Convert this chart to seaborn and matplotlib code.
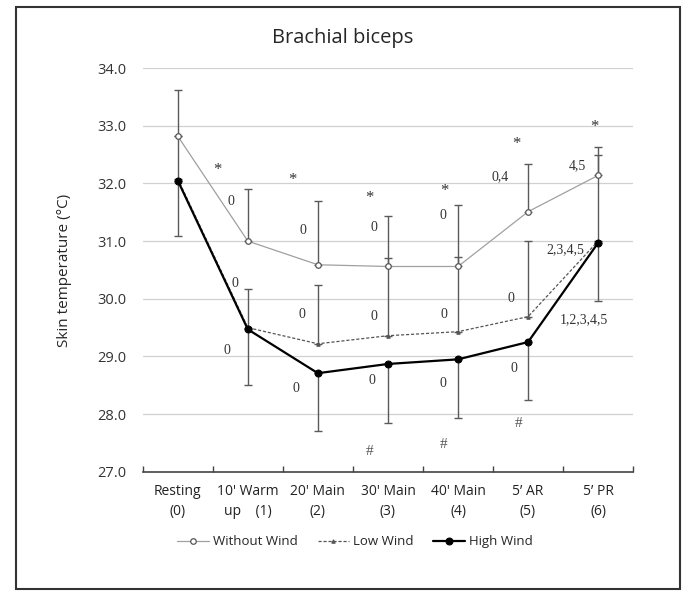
import matplotlib
matplotlib.use("Agg")
import matplotlib.pyplot as plt
import seaborn as sns
import pandas as pd
import numpy as np

categories = ["Resting\n(0)", "10' Warm\nup    (1)", "20' Main\n(2)", "30' Main\n(3)",
              "40' Main\n(4)", "5\u2019 AR\n(5)", "5\u2019 PR\n(6)"]
without_wind = [32.82, 31.00, 30.59, 30.56, 30.56, 31.51, 32.14]
without_err = [0.80, 0.90, 1.10, 0.87, 1.06, 0.83, 0.50]
low_wind = [32.08, 29.50, 29.22, 29.36, 29.43, 29.69, 31.00]
low_err = [0.75, 0.67, 1.02, 1.34, 1.30, 1.31, 1.49]
high_wind = [32.05, 29.47, 28.71, 28.87, 28.95, 29.25, 30.97]
high_err = [0.97, 0.97, 1.01, 1.03, 1.01, 1.01, 1.00]

ann_without = ["", "0", "0", "0", "0", "0,4", "4,5"]
ann_low = ["", "0", "0", "0", "0", "0", "2,3,4,5"]
ann_high = ["", "0", "0", "0", "0", "0", "1,2,3,4,5"]
star_pos = [None, 32.23, 32.06, 31.75, 31.87, 32.68, 32.98]
hash_pos = [None, None, None, 27.35, 27.47, 27.83, None]

sns.set_theme(style="white")
plt.rcParams['font.family'] = ['Open Sans', 'DejaVu Sans']

x = np.arange(len(categories))
df = pd.concat([
    pd.DataFrame({"x": x, "temp": without_wind, "cond": "Without Wind"}),
    pd.DataFrame({"x": x, "temp": low_wind, "cond": "Low Wind"}),
    pd.DataFrame({"x": x, "temp": high_wind, "cond": "High Wind"}),
])

fig = plt.figure(figsize=(6.83, 5.92), dpi=100)
ax = fig.add_axes([0.209, 0.203, 0.718, 0.682])

ekw = dict(fmt="none", ecolor="#5a5a5a", elinewidth=1.0, capsize=3, capthick=1.0, zorder=2)
ax.errorbar(x, without_wind, yerr=[np.zeros(7), without_err], **ekw)
ax.errorbar(x, low_wind, yerr=[np.zeros(7), low_err], **ekw)
ax.errorbar(x, high_wind, yerr=[high_err, np.zeros(7)], **ekw)

sub = df[df.cond == "Without Wind"]
sns.lineplot(data=sub, x="x", y="temp", ax=ax, color="#a0a0a0", linewidth=0.9,
             marker="o", markersize=4, markerfacecolor="white",
             markeredgecolor="#555555", markeredgewidth=0.9,
             label="Without Wind", zorder=3)
sub = df[df.cond == "Low Wind"]
sns.lineplot(data=sub, x="x", y="temp", ax=ax, color="#555555", linewidth=0.9,
             linestyle=(0, (2.5, 1.5)), marker="^", markersize=2.5,
             markerfacecolor="#555555", markeredgecolor="#555555",
             label="Low Wind", zorder=3)
sub = df[df.cond == "High Wind"]
sns.lineplot(data=sub, x="x", y="temp", ax=ax, color="black", linewidth=1.6,
             marker="o", markersize=5, markerfacecolor="black",
             markeredgecolor="black", label="High Wind", zorder=4)

serif = dict(family="Liberation Serif", fontsize=10, color="#333333")
offs_w = [(0, 0), (-0.243, 0.68), (-0.214, 0.59), (-0.2, 0.67), (-0.214, 0.88), (-0.4, 0.60), (-0.29, 0.16)]
offs_l = [(0, 0), (-0.186, 0.77), (-0.23, 0.50), (-0.2, 0.34), (-0.2, 0.29), (-0.243, 0.32), (-0.47, -0.14)]
offs_h = [(0, 0), (-0.3, -0.37), (-0.314, -0.26), (-0.23, -0.29), (-0.214, -0.41), (-0.2, -0.45), (-0.21, -1.34)]
for i in range(1, 7):
    ax.text(x[i] + offs_w[i][0], without_wind[i] + offs_w[i][1], ann_without[i],
            ha="center", va="center", **serif)
    ax.text(x[i] + offs_l[i][0], low_wind[i] + offs_l[i][1], ann_low[i],
            ha="center", va="center", **serif)
    ax.text(x[i] + offs_h[i][0], high_wind[i] + offs_h[i][1], ann_high[i],
            ha="center", va="center", **serif)
star_x = [None, -0.43, -0.37, -0.27, -0.2, -0.16, -0.06]
for i in range(1, 7):
    ax.text(x[i] + star_x[i], star_pos[i], "*", ha="center", va="center",
            family="Liberation Serif", fontsize=12, color="#333333")
hash_x = [None, None, None, -0.26, -0.2, -0.14, None]
for i in range(3, 6):
    ax.text(x[i] + hash_x[i], hash_pos[i], "#", ha="center", va="center",
            family="Liberation Serif", fontsize=11, color="#555555")

ax.set_xlim(-0.5, 6.5)
ax.set_ylim(27.0, 34.0)
yt = np.arange(27.0, 34.01, 1.0)
ax.set_yticks(yt)
ax.set_yticklabels([f"{v:.1f}" for v in yt], fontsize=10.5, color="#333333")
ax.set_xticks(x)
ax.set_xticklabels(categories, fontsize=10, linespacing=1.45, color="#222222")
ax.set_xticks(np.arange(-0.5, 6.51, 1.0), minor=True)
ax.tick_params(axis="x", which="major", length=0, pad=9)
ax.tick_params(axis="x", which="minor", length=4, width=1, color="#444444",
               direction="in", bottom=True)
ax.tick_params(axis="y", length=0, pad=12)
ax.yaxis.grid(True, color="#d0d0d0", linewidth=0.9)
ax.xaxis.grid(False)
for s in ["left", "right", "top"]:
    ax.spines[s].set_visible(False)
ax.spines["bottom"].set_color("#444444")
ax.spines["bottom"].set_linewidth(1.2)
ax.set_xlabel("")
ax.set_ylabel("Skin temperature (\u00b0C)", fontsize=11, labelpad=18)

fig.text(0.502, 0.936, "Brachial biceps", ha="center", va="center", fontsize=14.5)

leg = ax.legend(loc="center", bbox_to_anchor=(0.433, -0.173), ncol=3,
                frameon=False, fontsize=9.5, handlelength=2.4, columnspacing=1.5,
                handletextpad=0.3)

fig.patches.append(plt.Rectangle((0.023, 0.005), 0.972, 0.983, transform=fig.transFigure,
                                 fill=False, edgecolor="#333333", linewidth=1.5))
fig.savefig("out.png", dpi=100)
